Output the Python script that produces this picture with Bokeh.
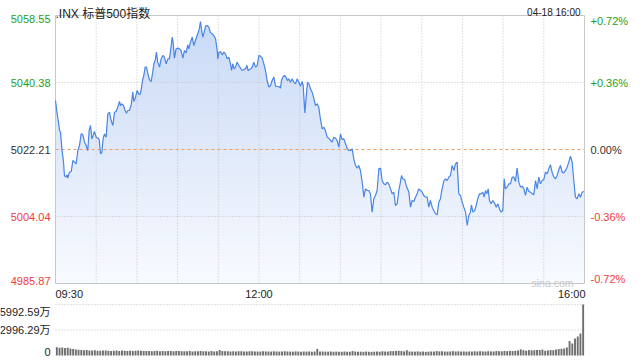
from bokeh.plotting import figure
from bokeh.models import Range1d
from bokeh.embed import file_html
from bokeh.resources import INLINE
from bokeh.core.properties import value

# ---------------- data ----------------
title_text = ".INX 标普500指数"
date_text = "04-18 16:00"
watermark = "sina.com"

# minutes after 09:30
times = [
    0.0, 1.2, 2.2, 3.0, 3.7, 4.7, 5.9, 6.6, 7.6, 8.6, 9.1, 10.3, 11.6, 12.8, 14.0, 15.2, 16.5, 17.7, 18.9, 20.1,
    21.4, 22.6, 23.8, 24.8, 25.8, 26.8, 27.8, 28.7, 30.0, 31.2, 32.2, 33.2, 34.2, 35.1, 36.1, 37.3, 38.6, 39.8, 41.0, 42.3,
    43.5, 44.7, 45.9, 47.2, 47.9, 48.9, 50.1, 51.4, 52.3, 53.3, 54.5, 55.8, 57.0, 57.7, 59.0, 60.2, 61.2, 62.2, 63.1, 64.1,
    65.1, 66.1, 67.1, 68.1, 69.3, 70.5, 71.7, 72.5, 73.5, 74.4, 75.4, 76.7, 77.9, 79.1, 80.3, 81.6, 82.8, 84.0, 85.3, 86.0,
    86.7, 87.7, 88.9, 90.2, 91.4, 92.6, 93.9, 95.1, 96.3, 97.5,
    98.3, 99.5, 100.8, 102.0, 103.2, 104.4, 105.7, 106.9, 107.6, 108.6, 109.6, 110.6, 111.8, 113.0, 114.3, 115.5, 116.7, 118.0, 119.2, 119.7,
    120.4, 121.6, 122.9, 124.1, 125.3, 126.6, 127.8, 129.0, 129.8, 130.7, 131.7, 132.7, 133.9, 135.2, 136.4, 137.6, 138.8, 140.1, 141.1, 142.0,
    143.0, 144.0, 145.0, 146.2, 147.4, 148.7, 149.9, 151.1, 152.4, 153.6, 154.8, 156.0, 157.3, 158.5, 159.7, 161.0, 162.2, 163.4, 164.6, 165.9,
    166.6, 167.6, 168.8, 170.0, 171.0, 172.0, 173.2, 174.5, 175.7, 176.9, 178.2, 179.4, 180.6, 181.8, 182.6, 183.8, 184.8, 185.8, 186.8, 188.0,
    189.2, 190.4, 191.7, 192.9, 194.1, 195.1,
    196.6, 197.8, 199.0, 200.3, 201.5, 202.7, 204.0, 205.2, 206.4, 207.6, 208.9, 210.1, 211.3, 212.6, 213.8, 215.0, 216.2, 217.5, 218.7, 219.9,
    221.2, 222.4, 223.6, 224.8, 226.1, 227.3, 228.5, 229.8, 231.0, 232.2, 233.4, 234.7, 235.9, 237.1, 238.4, 239.6, 240.8, 242.0, 243.3, 244.5,
    245.7, 247.0, 248.2, 249.4, 250.6, 251.9, 253.1, 254.3, 255.1, 256.0, 257.5, 258.5, 259.5, 260.5, 261.7, 262.9, 264.2, 265.4, 266.6, 267.8,
    269.1, 270.3, 271.5, 272.8, 274.0, 275.2, 276.4, 277.7, 278.9, 280.1, 281.4, 282.6, 283.8, 285.0, 286.3, 287.5, 288.7, 290.0,
    291.2, 292.4, 293.7, 294.9, 296.1, 297.3, 298.6, 299.8, 301.0, 302.3, 303.5, 304.7, 305.9, 306.7, 307.7, 309.1, 310.1, 311.3, 312.6, 313.8,
    315.0, 316.0, 317.0, 318.0, 319.0, 319.9, 321.2, 322.4, 323.6, 324.9, 326.1, 327.3, 328.5, 329.8, 330.8, 331.7, 333.0, 334.2, 335.4, 336.7,
    337.9, 339.1, 340.3, 341.6, 342.8, 344.0, 345.3, 346.5, 347.7, 348.9, 350.2, 351.4, 352.6, 353.9, 355.1, 356.3, 357.5, 358.8, 360.0, 361.2,
    362.5, 363.7, 364.9, 366.1, 367.4, 368.6, 369.8, 371.1, 372.3, 373.5, 374.7, 376.0, 377.2, 378.4, 379.7, 380.9, 382.1, 383.3, 384.6, 385.8,
    387.0, 388.3, 389.5,
]

prices = [
    5035.50, 5031.88, 5029.62, 5027.36, 5026.91, 5022.39, 5018.78, 5015.16, 5014.71, 5015.34,
    5014.43, 5016.06, 5016.24, 5019.23, 5018.78, 5018.32, 5021.94, 5023.29, 5026.46, 5026.28,
    5024.20, 5023.29, 5021.94, 5027.36, 5028.72, 5025.10, 5026.01, 5027.09, 5025.55, 5025.28,
    5024.92, 5021.03, 5021.49, 5025.10, 5026.46, 5025.55, 5031.88, 5032.33, 5030.07, 5028.72,
    5032.33, 5032.51, 5033.69, 5035.23, 5034.14, 5034.59, 5034.14, 5032.79, 5032.06, 5032.79,
    5032.79, 5034.32, 5037.76, 5035.23, 5036.40, 5038.21, 5037.31, 5037.03, 5038.21, 5040.92,
    5042.28, 5044.54, 5044.54, 5042.73, 5041.19, 5040.65, 5043.18, 5045.44, 5046.35, 5048.61,
    5045.89, 5044.54, 5046.80, 5047.70, 5047.25, 5045.44, 5046.80, 5046.80, 5050.41, 5052.67,
    5051.32, 5046.98, 5049.51, 5049.69, 5049.51, 5049.06, 5046.98, 5049.06, 5048.43, 5050.59,
    5049.51, 5051.32, 5052.67, 5050.41, 5051.77, 5053.13, 5054.48, 5056.92, 5054.93, 5052.67,
    5054.03, 5055.66, 5055.84, 5055.39, 5053.85, 5053.58, 5053.13, 5052.22, 5049.06, 5046.80,
    5048.43, 5048.79, 5047.88, 5048.61, 5048.15, 5046.80, 5047.25, 5045.44, 5043.63, 5045.44,
    5044.09, 5044.54, 5045.89, 5044.99, 5044.27, 5043.63, 5043.91, 5044.09, 5044.99, 5043.63,
    5043.91, 5044.09, 5044.54, 5045.89, 5044.54, 5044.99, 5047.70, 5047.52, 5046.98, 5045.44,
    5043.63, 5040.92, 5039.11, 5039.57, 5040.92, 5041.83, 5039.39, 5039.30, 5039.30, 5038.84,
    5040.92, 5041.83, 5042.28, 5041.83, 5040.92, 5041.37, 5040.47, 5041.37, 5040.47, 5040.02,
    5041.37, 5040.47, 5039.39, 5040.65, 5039.57, 5032.15, 5036.40, 5040.47, 5040.02, 5038.66,
    5037.76, 5036.13, 5034.14, 5034.59, 5033.69, 5030.98,
    5027.81, 5028.27, 5027.36, 5025.55, 5025.28, 5024.65, 5024.20, 5025.55, 5025.28, 5024.65,
    5022.84, 5026.46, 5024.92, 5025.10, 5023.75, 5022.57, 5021.94, 5021.94, 5022.39, 5019.68,
    5017.87, 5017.15, 5017.87, 5016.52, 5013.35, 5009.28, 5011.54, 5011.09, 5011.09, 5010.19,
    5005.22, 5008.83, 5009.74, 5011.09, 5016.97, 5017.15, 5013.80, 5012.90, 5012.63, 5013.35,
    5012.90, 5011.54, 5010.19, 5010.64, 5007.02, 5007.48, 5011.09, 5013.35, 5015.16, 5014.26,
    5014.07, 5012.45, 5011.54, 5010.64, 5006.57, 5008.38, 5008.11, 5009.28, 5010.19, 5011.54,
    5011.09, 5010.64, 5009.74, 5009.28, 5009.28, 5006.57, 5008.38, 5006.57, 5005.67, 5004.76,
    5004.49, 5007.93, 5008.83, 5011.54, 5013.62, 5014.26, 5013.80, 5014.71,
    5015.16, 5017.87, 5016.52, 5018.32, 5018.78, 5010.19, 5009.74, 5007.93, 5006.57, 5005.22,
    5001.60, 5004.31, 5005.22, 5007.20, 5005.22, 5005.67, 5007.02, 5008.83, 5010.19, 5010.19,
    5010.64, 5009.28, 5011.09, 5010.19, 5011.54, 5008.38, 5007.48, 5008.38, 5007.75, 5006.57,
    5007.48, 5006.12, 5005.22, 5005.67, 5014.26, 5011.54, 5011.99, 5012.90, 5012.90, 5014.71,
    5014.71, 5013.53, 5017.15, 5013.35, 5011.99, 5012.27, 5011.54, 5009.74, 5011.99, 5010.82,
    5010.64, 5010.19, 5009.92, 5013.80, 5011.54, 5014.71, 5012.90, 5013.80, 5014.07, 5016.06,
    5015.61, 5016.97, 5018.05, 5016.06, 5014.71, 5014.26, 5015.16, 5016.79, 5017.87, 5016.06,
    5015.88, 5016.52, 5017.42, 5018.78, 5020.40, 5018.78, 5013.80, 5009.28, 5008.83, 5010.19,
    5009.28, 5010.64, 5010.82,
]

price_ticks = [5058.55, 5040.38, 5022.21, 5004.04, 4985.87]
price_tick_labels = ["5058.55", "5040.38", "5022.21", "5004.04", "4985.87"]
pct_tick_labels = ["+0.72%", "+0.36%", "0.00%", "-0.36%", "-0.72%"]
tick_colors = ["#1ea01e", "#1ea01e", "#333333", "#f03c3c", "#f03c3c"]

session_minutes = 390
time_label_minutes = [0, 150, 390]
time_labels = ["09:30", "12:00", "16:00"]
grid_minutes = [30, 60, 90, 120, 150, 180, 210, 240, 270, 300, 330, 360]

# volume (万), one bar per 2 minutes
vol_minutes = list(range(1, 390, 2))
volumes = [
    980, 900, 950, 870, 900, 820, 760, 700, 680, 650,
    620, 640, 600, 580, 610, 570, 560, 600, 590, 560,
    540, 560, 580, 530, 600, 560, 540, 550, 520, 560,
    590, 550, 530, 540, 520, 510, 540, 560, 500, 520,
    510, 530, 520, 500, 540, 520, 500, 510, 490, 520,
    480, 500, 510, 520, 490, 500, 470, 520, 480, 490,
    650, 520, 500, 510, 480, 500, 470, 490, 510, 480,
    470, 490, 500, 480, 470, 460, 500, 480, 470, 460,
    490, 470, 460, 480, 500, 470, 460, 450, 480, 470,
    450, 470, 460, 480, 440, 460, 780, 480, 470, 450,
    460, 470, 440, 460, 450, 430, 470, 450, 440, 520,
    460, 440, 450, 430, 470, 440, 430, 450, 460, 440,
    500, 470, 460, 520, 510, 540, 560, 520, 480, 620,
    470, 460, 450, 480, 440, 470, 430, 450, 470, 460,
    520, 480, 500, 470, 460, 480, 510, 470, 490, 460,
    470, 450, 480, 460, 490, 470, 500, 480, 460, 500,
    480, 470, 520, 500, 490, 530, 510, 540, 520, 560,
    580, 720, 620, 560, 640, 600, 620, 650, 640, 700,
    560, 600, 640, 620, 700, 760, 800, 820, 940, 1700,
    1410, 2000, 2230, 2585, 5992.59,
]
vol_ticks = [5992.59, 2996.29, 0]
vol_tick_labels = ["5992.59万", "2996.29万", "0"]

# ---------------- layout (pixels) & style ----------------
W, H = 640, 360
FL, FR = 55, 584          # plot area left / right
PT, PB = 15, 283          # price panel top / bottom
VT, VB = 304, 355         # volume panel top / bottom

FONT = "Liberation Sans"
CJK_FONT = "Liberation Sans, Noto Sans CJK SC"
LINE_COLOR = "#4a86e6"
GRID_COLOR = "#c4c4c4"
TEXT_COLOR = "#222222"

lo, hi = price_ticks[-1], price_ticks[0]
vmax = vol_ticks[0]

sx = session_minutes / (FR - FL)
sp = (hi - lo) / (PB - PT)
sv = vmax / (VB - VT)

x0 = -FL * sx
x_range = Range1d(x0, x0 + W * sx)
y_range = Range1d(hi + PT * sp - H * sp, hi + PT * sp)
vol_range = Range1d(vmax + VT * sv - H * sv, vmax + VT * sv)


def X(px):
    return x0 + px * sx


def P(py):
    return hi + (PT - py) * sp


def V(py):
    return vmax + (VT - py) * sv


p = figure(width=W, height=H, x_range=x_range, y_range=y_range,
           output_backend="svg", toolbar_location=None, x_axis_type=None, y_axis_type=None,
           title=None, min_border=0, min_border_left=0, min_border_right=0,
           min_border_top=0, min_border_bottom=0)
p.extra_y_ranges = {"vol": vol_range}
p.outline_line_color = None
p.background_fill_color = "white"
p.border_fill_color = "white"

# vertical gradient fill below the line (stacked bands)
top_rgb = (0xc8, 0xd9, 0xf6)
bot_rgb = (0xf8, 0xfa, 0xfe)
N = 40
base = [lo] * len(prices)
for j in range(N, 0, -1):
    lvl = lo + (hi - lo) * j / N
    f = (j - 0.5) / N
    c = tuple(int(round(b + (t - b) * f)) for t, b in zip(top_rgb, bot_rgb))
    p.varea(x=times, y1=base, y2=[min(v, lvl) for v in prices], fill_color="#%02x%02x%02x" % c)

# grid
p.segment(x0=grid_minutes, y0=[lo] * len(grid_minutes), x1=grid_minutes, y1=[hi] * len(grid_minutes),
          line_color=GRID_COLOR, line_width=1, line_dash="1 2")
mid_ticks = [price_ticks[1], price_ticks[3]]
p.segment(x0=[0, 0], y0=mid_ticks, x1=[session_minutes] * 2, y1=mid_ticks,
          line_color=GRID_COLOR, line_width=1, line_dash="1 2")
p.segment(x0=[0], y0=[price_ticks[2]], x1=[session_minutes], y1=[price_ticks[2]],
          line_color="#f39a5e", line_width=1, line_dash="3 3")

# frame outline
p.quad(left=[0], right=[session_minutes], bottom=[lo], top=[hi], fill_color=None,
       line_color="#c8c8c8", line_width=1)

p.line(times, prices, line_color=LINE_COLOR, line_width=1.2)

# price / percent labels
lab_y = [P(PT - 1)] + price_ticks[1:-1] + [P(PB + 1)]
lab_base = ["top", "middle", "middle", "middle", "bottom"]
for yv, lab, pct, c, bl in zip(lab_y, price_tick_labels, pct_tick_labels, tick_colors, lab_base):
    p.text(x=[X(FL - 5)], y=[yv], text=[lab], text_align="right", text_baseline=bl,
           text_font=value(FONT), text_font_size="11px", text_color=c)
    p.text(x=[X(FR + 6)], y=[yv], text=[pct], text_align="left", text_baseline=bl,
           text_font=value(FONT), text_font_size="11px", text_color=c)

# title, date, watermark
p.text(x=[X(FL)], y=[P(13)], text=[title_text], text_align="left", text_baseline="alphabetic",
       text_font=value(CJK_FONT), text_font_size="12px", text_color=TEXT_COLOR)
p.text(x=[X(FR - 4)], y=[P(11.5)], text=[date_text], text_align="right", text_baseline="alphabetic",
       text_font=value(FONT), text_font_size="10px", text_color=TEXT_COLOR)
p.text(x=[X(FR - 11)], y=[P(PB - 0.5)], text=[watermark], text_align="right", text_baseline="alphabetic",
       text_font=value(FONT), text_font_size="10.5px", text_color="#c8c8c8")

# time labels
for m, lab, al, dx in zip(time_label_minutes, time_labels, ["left", "center", "right"], [0, 0, 1]):
    p.text(x=[m + dx * sx], y=[P(293)], text=[lab], text_align=al, text_baseline="middle",
           text_font=value(FONT), text_font_size="11px", text_color=TEXT_COLOR)

# ---------------- volume panel ----------------
p.segment(x0=[0, 0], y0=vol_ticks[:2], x1=[session_minutes] * 2, y1=vol_ticks[:2],
          line_color=GRID_COLOR, line_width=1, line_dash="1 2", y_range_name="vol")
p.vbar(x=vol_minutes, top=volumes, bottom=0, width=1.4, fill_color="#6e6e6e", line_color=None,
       y_range_name="vol")

vol_lab_y = [V(VT + 1), vol_ticks[1], V(VB)]
for yv, lab, bl in zip(vol_lab_y, vol_tick_labels, ["top", "middle", "bottom"]):
    p.text(x=[X(FL - 5)], y=[yv], text=[lab], text_align="right", text_baseline=bl,
           text_font=value(CJK_FONT), text_font_size="11px", text_color=TEXT_COLOR,
           y_range_name="vol")

open("out.html", "w").write(file_html(p, INLINE))
